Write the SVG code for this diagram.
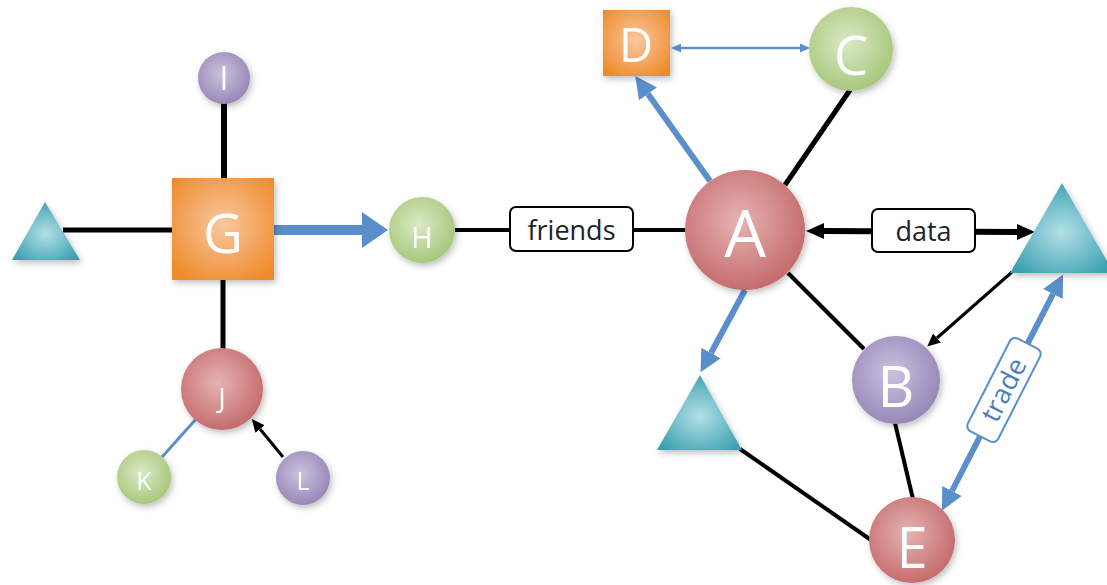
<svg xmlns="http://www.w3.org/2000/svg" width="1107" height="585" viewBox="0 0 1107 585">
<style>
.blk{stroke:#000;fill:none;stroke-linecap:butt}
.blu{stroke:#5a8fcb;fill:none}
.lbl{font-family:"Open Sans","DejaVu Sans",sans-serif;fill:#fff;text-anchor:middle}
.edge{font-family:"Open Sans","DejaVu Sans",sans-serif;fill:#222;text-anchor:middle;font-size:27px}
.box{fill:#fff;stroke:#000;stroke-width:2}
</style>
<defs>
<radialGradient id="gRed" cx="0.45" cy="0.42" r="0.6"><stop offset="0" stop-color="#e6b3b3"/><stop offset="1" stop-color="#c46a6a"/></radialGradient>
<radialGradient id="gPur" cx="0.45" cy="0.42" r="0.6"><stop offset="0" stop-color="#cbc2de"/><stop offset="1" stop-color="#9686b8"/></radialGradient>
<radialGradient id="gGrn" cx="0.45" cy="0.42" r="0.6"><stop offset="0" stop-color="#dbe9c6"/><stop offset="1" stop-color="#a6c77a"/></radialGradient>
<radialGradient id="gOra" cx="0.5" cy="0.45" r="0.65"><stop offset="0" stop-color="#f9c8a0"/><stop offset="1" stop-color="#ee8b2b"/></radialGradient>
<radialGradient id="gTea" cx="0.5" cy="0.55" r="0.6"><stop offset="0" stop-color="#b3e0e7"/><stop offset="1" stop-color="#3a9fb0"/></radialGradient>
<filter id="sh" x="-30%" y="-30%" width="160%" height="160%"><feDropShadow dx="2" dy="3" stdDeviation="3" flood-color="#000" flood-opacity="0.25"/></filter>
<marker id="mBlueBig" markerUnits="userSpaceOnUse" markerWidth="26" markerHeight="36" refX="0" refY="18" orient="auto"><path d="M0,0 L26,18 L0,36 Z" fill="#5a8fcb"/></marker>
<marker id="mBlue" markerUnits="userSpaceOnUse" markerWidth="22" markerHeight="22" refX="0" refY="11" orient="auto-start-reverse"><path d="M0,0 L22,11 L0,22 Z" fill="#5a8fcb"/></marker>
<marker id="mBlueSm" markerUnits="userSpaceOnUse" markerWidth="10" markerHeight="9" refX="0" refY="4.5" orient="auto-start-reverse"><path d="M0,0 L10,4.5 L0,9 Z" fill="#5a8fcb"/></marker>
<marker id="mBlk" markerUnits="userSpaceOnUse" markerWidth="18" markerHeight="16" refX="0" refY="8" orient="auto-start-reverse"><path d="M0,0 L18,8 L0,16 Z" fill="#000"/></marker>
<marker id="mBlkSm" markerUnits="userSpaceOnUse" markerWidth="13" markerHeight="12" refX="0" refY="6" orient="auto"><path d="M0,0 L13,6 L0,12 Z" fill="#000"/></marker>
</defs>
<rect width="1107" height="585" fill="#fff"/>
<g id="connectors">
<line class="blk" x1="63" y1="230" x2="172" y2="230" stroke-width="5"/>
<line class="blk" x1="224" y1="100" x2="224" y2="178" stroke-width="6"/>
<line class="blk" x1="223" y1="280" x2="223" y2="350" stroke-width="5"/>
<line class="blu" x1="274" y1="230" x2="362" y2="230" stroke-width="10" marker-end="url(#mBlueBig)"/>
<line class="blk" x1="455" y1="230" x2="510" y2="230" stroke-width="4"/>
<line class="blk" x1="633" y1="230" x2="688" y2="230" stroke-width="4"/>
<line class="blk" x1="850" y1="90" x2="785" y2="185" stroke-width="5"/>
<line class="blu" x1="710" y1="181" x2="648" y2="94" stroke-width="6" marker-end="url(#mBlue)"/>
<line class="blu" x1="681" y1="48" x2="800" y2="48" stroke-width="2.5" marker-start="url(#mBlueSm)" marker-end="url(#mBlueSm)"/>
<line class="blk" x1="824" y1="231" x2="1017" y2="232" stroke-width="6" marker-start="url(#mBlk)" marker-end="url(#mBlk)"/>
<line class="blu" x1="745" y1="290" x2="711" y2="353" stroke-width="6" marker-end="url(#mBlue)"/>
<line class="blk" x1="788" y1="273" x2="864" y2="349" stroke-width="4"/>
<line class="blk" x1="1012" y1="272" x2="937" y2="338" stroke-width="3" marker-end="url(#mBlkSm)"/>
<line class="blu" x1="952" y1="491" x2="1053" y2="294" stroke-width="6" marker-start="url(#mBlue)" marker-end="url(#mBlue)"/>
<line class="blk" x1="895" y1="423" x2="913" y2="499" stroke-width="4"/>
<line class="blk" x1="740" y1="449" x2="871" y2="540" stroke-width="4"/>
<line class="blu" x1="162" y1="457" x2="197" y2="418" stroke-width="3"/>
<line class="blk" x1="283" y1="457" x2="260" y2="429" stroke-width="3" marker-end="url(#mBlkSm)"/>
<g id="label-friends"><rect class="box" x="510" y="207" width="123" height="44" rx="6"/><text class="edge" x="571.5" y="240">friends</text></g>
<g id="label-data"><rect class="box" x="872" y="209" width="103" height="43" rx="6"/><text class="edge" x="923.5" y="241">data</text></g>
<g id="label-trade" transform="translate(1004,390) rotate(-63)"><rect x="-52" y="-17" width="104" height="34" rx="6" fill="#fff" stroke="#5a8fcb" stroke-width="2"/><text class="edge" x="0" y="9" style="fill:#4a7fbb">trade</text></g>
</g>
<g id="node-tri-left" filter="url(#sh)"><polygon points="45,202 12,260 80,260" fill="url(#gTea)"/></g>
<g id="node-G" filter="url(#sh)"><rect x="172" y="178" width="102" height="102" fill="url(#gOra)"/><text class="lbl" x="223" y="253" font-size="55">G</text></g>
<g id="node-I" filter="url(#sh)"><circle cx="224" cy="78" r="26" fill="url(#gPur)"/><text class="lbl" x="224" y="90" font-size="32">I</text></g>
<g id="node-H" filter="url(#sh)"><circle cx="422" cy="230" r="33" fill="url(#gGrn)"/><text class="lbl" x="422" y="248" font-size="29">H</text></g>
<g id="node-J" filter="url(#sh)"><circle cx="222" cy="389" r="41" fill="url(#gRed)"/><text class="lbl" x="222" y="408" font-size="28">J</text></g>
<g id="node-K" filter="url(#sh)"><circle cx="144" cy="477" r="27" fill="url(#gGrn)"/><text class="lbl" x="144" y="490" font-size="25">K</text></g>
<g id="node-L" filter="url(#sh)"><circle cx="303" cy="478" r="27" fill="url(#gPur)"/><text class="lbl" x="303" y="490" font-size="25">L</text></g>
<g id="node-A" filter="url(#sh)"><circle cx="745" cy="230" r="60" fill="url(#gRed)"/><text class="lbl" x="745" y="257" font-size="66">A</text></g>
<g id="node-D" filter="url(#sh)"><rect x="603" y="10" width="67" height="66" fill="url(#gOra)"/><text class="lbl" x="636" y="62" font-size="47">D</text></g>
<g id="node-C" filter="url(#sh)"><circle cx="851" cy="49" r="42" fill="url(#gGrn)"/><text class="lbl" x="851" y="75" font-size="55">C</text></g>
<g id="node-tri-right" filter="url(#sh)"><polygon points="1062,183 1010,273 1114,273" fill="url(#gTea)"/></g>
<g id="node-B" filter="url(#sh)"><circle cx="896" cy="380" r="44" fill="url(#gPur)"/><text class="lbl" x="896" y="407" font-size="57">B</text></g>
<g id="node-tri-bottom" filter="url(#sh)"><polygon points="700,375 657,450 742,450" fill="url(#gTea)"/></g>
<g id="node-E" filter="url(#sh)"><circle cx="912" cy="540" r="43" fill="url(#gRed)"/><text class="lbl" x="912" y="568" font-size="56">E</text></g>
</svg>
